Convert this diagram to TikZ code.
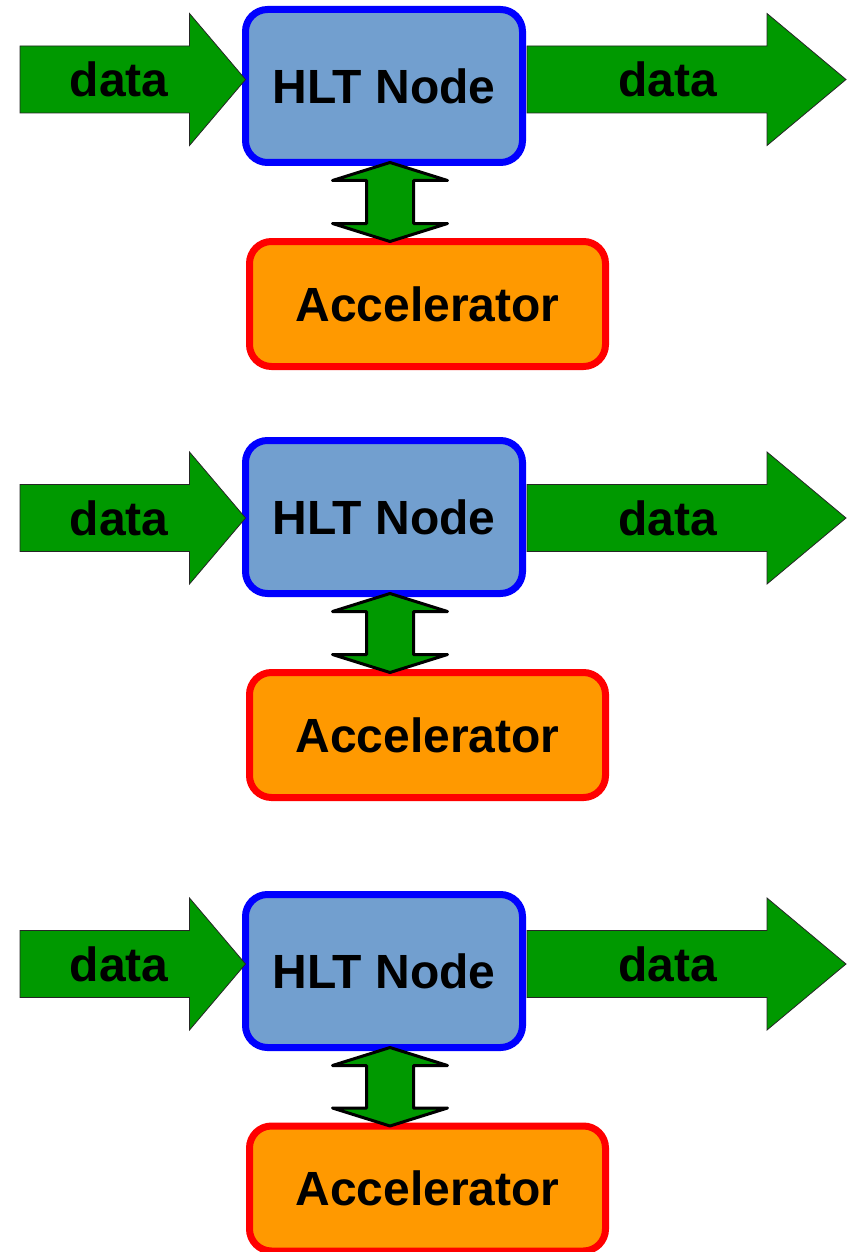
\documentclass[tikz,border=0pt]{standalone}
\usepackage{fontspec}
\setmainfont{Liberation Sans}
\usepackage{xcolor}
\usepackage{tikz}
\usetikzlibrary{calc}

\definecolor{hltfill}{HTML}{729FCF}
\definecolor{accfill}{HTML}{FF9900}
\definecolor{datagreen}{HTML}{009900}

\begin{document}
\begin{tikzpicture}[x=1pt, y=-1pt, font=\fontsize{48}{57}\selectfont\bfseries,
	hlt/.style={rectangle, rounded corners=22pt, draw=blue, line width=7pt,
	fill=hltfill, minimum width=277pt, minimum height=153pt, outer sep=0pt},
	acc/.style={rectangle, rounded corners=22pt, draw=red, line width=7pt,
	fill=accfill, minimum width=356pt, minimum height=125pt, outer sep=0pt},
	flow/.style={draw=black!85, line width=0.8pt, fill=datagreen},
	link/.style={draw=black, line width=3pt, line join=round, fill=datagreen},
	lbl/.style={inner sep=0pt}]

\useasboundingbox (0,0) rectangle (853,1252);

% first
\node[hlt] (H1) at (384,86) {HLT Node};
\node[acc] (A1) at (427.5,304) {Accelerator};
\coordinate (in1) at (20,79.5);
\coordinate (out1) at (846,79.5);
\coordinate (t1) at ($(H1.east|-out1)+(4.5,0)$);
\draw[flow] let \p1 = (in1), \p2 = (H1.west) in (\x1,\y1+33.5) -- (\x2-56,\y1+33.5) -- (\x2-56,\y1+66) -- (\x2,\y1) -- (\x2-56,\y1-66) -- (\x2-56,\y1-33.5) -- (\x1,\y1-33.5) -- cycle;
\draw[flow] let \p1 = (t1), \p2 = (out1) in (\x1,\y2+33.5) -- (\x2-79,\y2+33.5) -- (\x2-79,\y2+66) -- (\x2,\y2) -- (\x2-79,\y2-66) -- (\x2-79,\y2-33.5) -- (\x1,\y2-33.5) -- cycle;
\node[lbl] (d1) at ($(in1)!.44!(H1.west|-in1)$) {data};
\node[lbl] (e1) at ($(t1)!.44!(out1)$) {data};
\draw[link] let \p1 = ($(H1.south)+(6,0)$), \p2 = (A1.north) in (\x1,\y1) -- (\x1+57.5,\y1-18) -- (\x1+23.5,\y1-18) -- (\x1+23.5,\y2+18) -- (\x1+57.5,\y2+18) -- (\x1,\y2) -- (\x1-57.5,\y2+18) -- (\x1-23.5,\y2+18) -- (\x1-23.5,\y1-18) -- (\x1-57.5,\y1-18) -- cycle;

% second
\node[hlt] (H2) at (384,517) {HLT Node};
\node[acc] (A2) at (427.5,735) {Accelerator};
\coordinate (in2) at (20,518);
\coordinate (out2) at (846,518);
\coordinate (t2) at ($(H2.east|-out2)+(4.5,0)$);
\draw[flow] let \p1 = (in2), \p2 = (H2.west) in (\x1,\y1+33.5) -- (\x2-56,\y1+33.5) -- (\x2-56,\y1+66) -- (\x2,\y1) -- (\x2-56,\y1-66) -- (\x2-56,\y1-33.5) -- (\x1,\y1-33.5) -- cycle;
\draw[flow] let \p1 = (t2), \p2 = (out2) in (\x1,\y2+33.5) -- (\x2-79,\y2+33.5) -- (\x2-79,\y2+66) -- (\x2,\y2) -- (\x2-79,\y2-66) -- (\x2-79,\y2-33.5) -- (\x1,\y2-33.5) -- cycle;
\node[lbl] (d2) at ($(in2)!.44!(H2.west|-in2)$) {data};
\node[lbl] (e2) at ($(t2)!.44!(out2)$) {data};
\draw[link] let \p1 = ($(H2.south)+(6,0)$), \p2 = (A2.north) in (\x1,\y1) -- (\x1+57.5,\y1-18) -- (\x1+23.5,\y1-18) -- (\x1+23.5,\y2+18) -- (\x1+57.5,\y2+18) -- (\x1,\y2) -- (\x1-57.5,\y2+18) -- (\x1-23.5,\y2+18) -- (\x1-23.5,\y1-18) -- (\x1-57.5,\y1-18) -- cycle;

% third
\node[hlt] (H3) at (384,971) {HLT Node};
\node[acc] (A3) at (427.5,1188.5) {Accelerator};
\coordinate (in3) at (20,964);
\coordinate (out3) at (846,964);
\coordinate (t3) at ($(H3.east|-out3)+(4.5,0)$);
\draw[flow] let \p1 = (in3), \p2 = (H3.west) in (\x1,\y1+33.5) -- (\x2-56,\y1+33.5) -- (\x2-56,\y1+66) -- (\x2,\y1) -- (\x2-56,\y1-66) -- (\x2-56,\y1-33.5) -- (\x1,\y1-33.5) -- cycle;
\draw[flow] let \p1 = (t3), \p2 = (out3) in (\x1,\y2+33.5) -- (\x2-79,\y2+33.5) -- (\x2-79,\y2+66) -- (\x2,\y2) -- (\x2-79,\y2-66) -- (\x2-79,\y2-33.5) -- (\x1,\y2-33.5) -- cycle;
\node[lbl] (d3) at ($(in3)!.44!(H3.west|-in3)$) {data};
\node[lbl] (e3) at ($(t3)!.44!(out3)$) {data};
\draw[link] let \p1 = ($(H3.south)+(6,0)$), \p2 = (A3.north) in (\x1,\y1) -- (\x1+57.5,\y1-18) -- (\x1+23.5,\y1-18) -- (\x1+23.5,\y2+18) -- (\x1+57.5,\y2+18) -- (\x1,\y2) -- (\x1-57.5,\y2+18) -- (\x1-23.5,\y2+18) -- (\x1-23.5,\y1-18) -- (\x1-57.5,\y1-18) -- cycle;
\end{tikzpicture}
\end{document}
